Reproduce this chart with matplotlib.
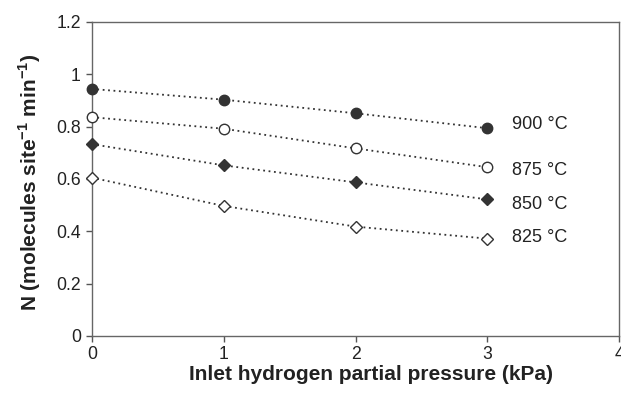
import matplotlib
matplotlib.use("Agg")
import matplotlib.pyplot as plt

plt.rcParams['font.family'] = ['Liberation Sans', 'DejaVu Sans']
plt.rcParams['mathtext.fontset'] = 'custom'
plt.rcParams['mathtext.rm'] = 'Liberation Sans'
plt.rcParams['mathtext.bf'] = 'Liberation Sans:bold'

pressure = [0, 1, 2, 3]
n_900 = [0.944, 0.903, 0.851, 0.794]
n_875 = [0.836, 0.792, 0.717, 0.645]
n_850 = [0.733, 0.652, 0.587, 0.522]
n_825 = [0.605, 0.497, 0.418, 0.372]
labels = ["900 °C", "875 °C", "850 °C", "825 °C"]
label_y = [0.81, 0.634, 0.504, 0.378]

fig = plt.figure(figsize=(6.21, 3.97), dpi=100)
ax = fig.add_axes([0.148, 0.1537, 0.849, 0.791])

lc = '#333333'
series = [
    (n_900, 'o', lc, 7.5),
    (n_875, 'o', 'white', 7.5),
    (n_850, 'D', lc, 6),
    (n_825, 'D', 'white', 6),
]
for vals, m, fc, ms in series:
    ax.plot(pressure, vals, linestyle=(0, (1, 2.0)), color=lc, linewidth=1.3,
            marker=m, markerfacecolor=fc, markeredgecolor=lc, markersize=ms,
            markeredgewidth=1.0, clip_on=False, zorder=3)

for lab, yy in zip(labels, label_y):
    ax.text(3.19, yy, lab, fontsize=13, color='#222222', va='center', ha='left')

ax.set_xlim(0, 4)
ax.set_ylim(0, 1.2)
ax.set_xticks([0, 1, 2, 3, 4])
ax.set_yticks([0, 0.2, 0.4, 0.6, 0.8, 1.0, 1.2])
ax.set_yticklabels(['0', '0.2', '0.4', '0.6', '0.8', '1', '1.2'])
ax.tick_params(direction='out', length=4, width=1, colors='#555555',
               labelcolor='#222222', labelsize=12.7)
ax.tick_params(axis='y', pad=4)
for s in ax.spines.values():
    s.set_color('#666666')
    s.set_linewidth(1.0)

ax.set_xlabel('Inlet hydrogen partial pressure (kPa)', fontsize=15,
              fontweight='bold', color='#222222')
ax.xaxis.set_label_coords((371 - 92) / 527, -(375 - 336) / 314, transform=ax.transAxes)
ax.xaxis.label.set_va('center')
ax.set_ylabel(r'N (molecules site$^{\mathbf{-1}}$ min$^{\mathbf{-1}}$)',
              fontsize=15, fontweight='bold', color='#222222')
ax.yaxis.set_label_coords(-(92 - 30) / 527, (336 - 182) / 314, transform=ax.transAxes)
ax.yaxis.label.set_va('center')

fig.savefig('out.png', dpi=100)
